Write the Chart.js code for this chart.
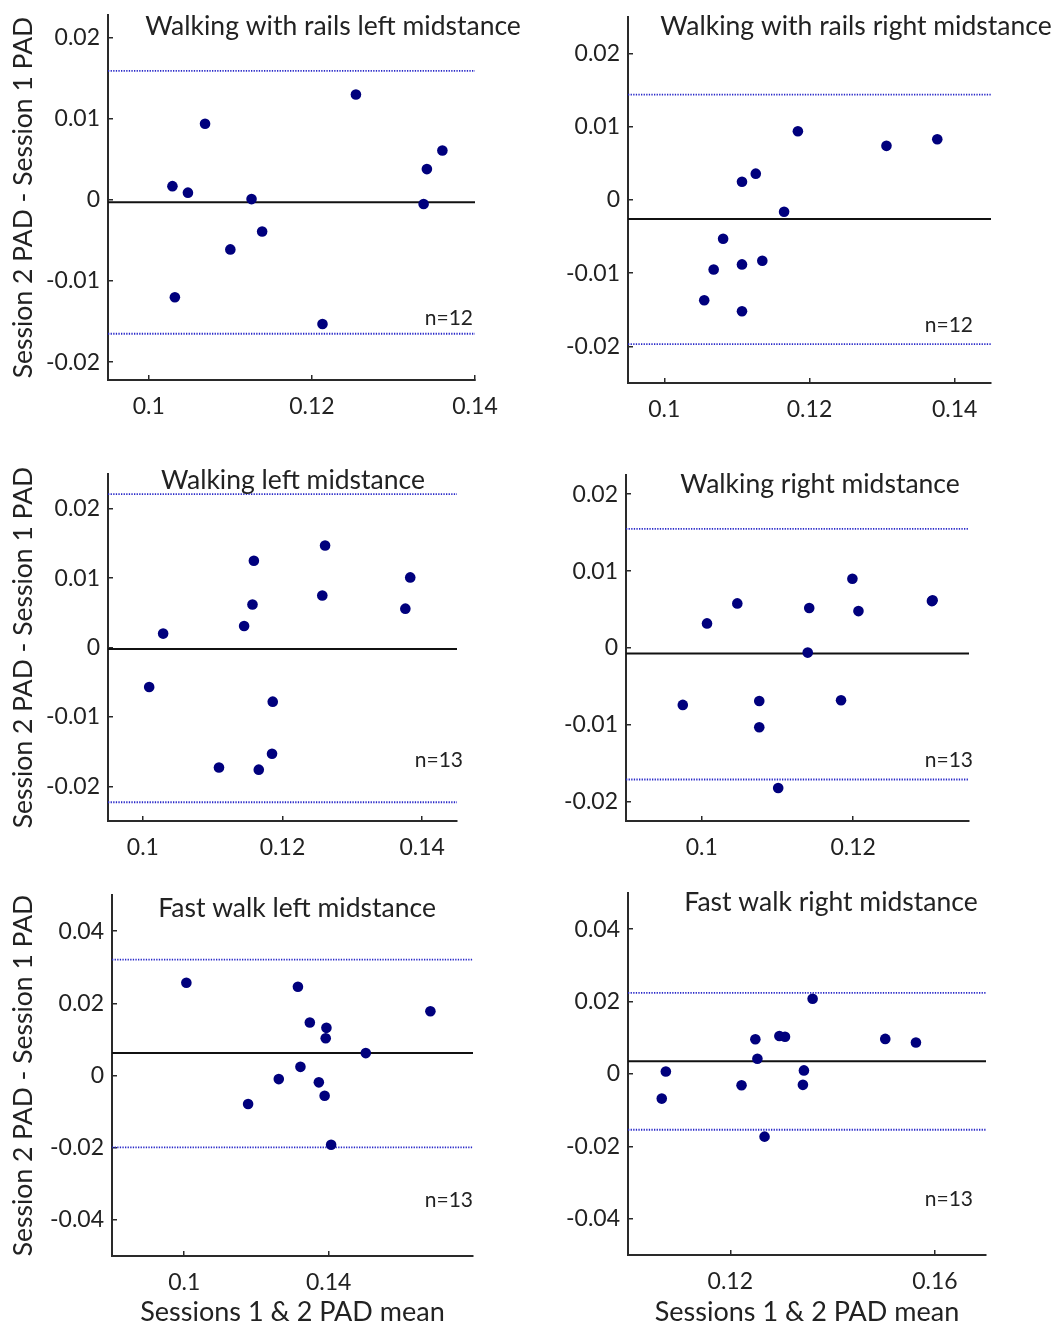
<!DOCTYPE html>
<html>
<head>
<meta charset="utf-8">
<script src="https://cdn.jsdelivr.net/npm/chart.js@4.4.0/dist/chart.umd.min.js"></script>
<style>
  html, body { margin: 0; padding: 0; background: #fff; }
  #wrap { position: relative; width: 1059px; height: 1327px; }
  #wrap canvas { position: absolute; left: 0; top: 0; }
</style>
</head>
<body>
<div id="wrap">
  <canvas id="railsLeft" width="1059" height="1327"></canvas>
  <canvas id="railsRight" width="1059" height="1327"></canvas>
  <canvas id="walkLeft" width="1059" height="1327"></canvas>
  <canvas id="walkRight" width="1059" height="1327"></canvas>
  <canvas id="fastLeft" width="1059" height="1327"></canvas>
  <canvas id="fastRight" width="1059" height="1327"></canvas>
</div>
<script>
// Bland-Altman data: x = mean of sessions, y = session 2 - session 1
const railsLeftMean = [0.1029, 0.1048, 0.1069, 0.1032, 0.1100, 0.1126, 0.1139, 0.1213, 0.1254, 0.1337, 0.1341, 0.1360];
const railsLeftDiff = [0.0017, 0.0009, 0.0094, -0.0120, -0.0061, 0.0001, -0.0039, -0.0153, 0.0130, -0.0005, 0.0038, 0.0061];
const railsLeftLines = [-0.0003, 0.0159, -0.0165]; // bias, upper, lower limit

const railsRightMean = [0.1184, 0.1306, 0.1376, 0.1107, 0.1126, 0.1165, 0.1081, 0.1068, 0.1107, 0.1135, 0.1055, 0.1107];
const railsRightDiff = [0.0094, 0.0074, 0.0083, 0.0025, 0.0036, -0.0016, -0.0053, -0.0095, -0.0088, -0.0083, -0.0137, -0.0152];
const railsRightLines = [-0.0026, 0.0144, -0.0197];

const walkLeftMean = [0.1029, 0.1009, 0.1145, 0.1157, 0.1159, 0.1261, 0.1257, 0.1376, 0.1383, 0.1186, 0.1185, 0.1109, 0.1166];
const walkLeftDiff = [0.0020, -0.0057, 0.0031, 0.0062, 0.0125, 0.0147, 0.0075, 0.0056, 0.0101, -0.0078, -0.0153, -0.0173, -0.0176];
const walkLeftLines = [-0.0002, 0.0221, -0.0223];

const walkRightMean = [0.0975, 0.1007, 0.1047, 0.1076, 0.1076, 0.1101, 0.1142, 0.1140, 0.1184, 0.1199, 0.1207, 0.1305, 0.1304];
const walkRightDiff = [-0.0074, 0.0032, 0.0058, -0.0069, -0.0103, -0.0182, 0.0052, -0.0006, -0.0068, 0.0090, 0.0048, 0.0062, 0.0061];
const walkRightLines = [-0.0007, 0.0155, -0.0171];

const fastLeftMean = [0.1006, 0.1315, 0.1682, 0.1348, 0.1394, 0.1392, 0.1503, 0.1322, 0.1262, 0.1373, 0.1389, 0.1177, 0.1407];
const fastLeftDiff = [0.0257, 0.0246, 0.0178, 0.0147, 0.0132, 0.0103, 0.0062, 0.0024, -0.0010, -0.0019, -0.0056, -0.0079, -0.0192];
const fastLeftLines = [0.0062, 0.0321, -0.0199];

const fastRightMean = [0.1066, 0.1074, 0.1222, 0.1249, 0.1253, 0.1267, 0.1296, 0.1307, 0.1344, 0.1342, 0.1361, 0.1503, 0.1563];
const fastRightDiff = [-0.0068, 0.0007, -0.0031, 0.0096, 0.0042, -0.0173, 0.0105, 0.0103, 0.0010, -0.0030, 0.0208, 0.0097, 0.0087];
const fastRightLines = [0.0035, 0.0224, -0.0154];

const ticks01 = [0.1, 0.12, 0.14];
const yTicksSmall = [-0.02, -0.01, 0, 0.01, 0.02];
const yTicksLarge = [-0.04, -0.02, 0, 0.02, 0.04];

const Y_TITLE = "Session 2 PAD - Session 1 PAD";
const X_TITLE = "Sessions 1 & 2 PAD mean";

const FONT = "Lato";
const TEXT_COLOR = "#222";
const AXIS_COLOR = "#2a2a2a";
const DOT_COLOR = "#00007d";
const LIMIT_COLOR = "#2828c8";
const Y_AXIS_W = 80;
const X_AXIS_H = 50;

const panels = [
    { id: "railsLeft", title: "Walking with rails left midstance", n: 12,
      xs: railsLeftMean, ys: railsLeftDiff, lines: railsLeftLines,
      area: { l: 108, r: 475, t: 15, b: 380 }, x: [0.095, 0.14], y: [-0.0222, 0.0228],
      xTicks: ticks01, yTicks: yTicksSmall, titleAt: [333, 26], nAt: [473, 318], yTitle: true },
    { id: "railsRight", title: "Walking with rails right midstance", n: 12,
      xs: railsRightMean, ys: railsRightDiff, lines: railsRightLines,
      area: { l: 628, r: 991, t: 17, b: 383 }, x: [0.095, 0.145], y: [-0.025, 0.025],
      xTicks: ticks01, yTicks: yTicksSmall, titleAt: [856, 26], nAt: [973, 325] },
    { id: "walkLeft", title: "Walking left midstance", n: 13,
      xs: walkLeftMean, ys: walkLeftDiff, lines: walkLeftLines,
      area: { l: 108, r: 457, t: 474, b: 821 }, x: [0.095, 0.145], y: [-0.025, 0.025],
      xTicks: ticks01, yTicks: yTicksSmall, titleAt: [293, 480], nAt: [463, 760], yTitle: true },
    { id: "walkRight", title: "Walking right midstance", n: 13,
      xs: walkRightMean, ys: walkRightDiff, lines: walkRightLines,
      area: { l: 626, r: 969, t: 475, b: 821 }, x: [0.09, 0.1353], y: [-0.0225, 0.0225],
      xTicks: [0.1, 0.12], yTicks: yTicksSmall, titleAt: [820, 484], nAt: [973, 760] },
    { id: "fastLeft", title: "Fast walk left midstance", n: 13,
      xs: fastLeftMean, ys: fastLeftDiff, lines: fastLeftLines,
      area: { l: 112, r: 473, t: 895, b: 1256 }, x: [0.08, 0.18], y: [-0.05, 0.05],
      xTicks: [0.1, 0.14], yTicks: yTicksLarge, titleAt: [297, 908], nAt: [473, 1200], yTitle: true, xTitle: true },
    { id: "fastRight", title: "Fast walk right midstance", n: 13,
      xs: fastRightMean, ys: fastRightDiff, lines: fastRightLines,
      area: { l: 628, r: 986, t: 893, b: 1255 }, x: [0.1, 0.17], y: [-0.05, 0.05],
      xTicks: [0.12, 0.16], yTicks: yTicksLarge, titleAt: [831, 902], nAt: [973, 1199], xTitle: true },
];

// titles, n= labels and axis titles, placed per panel
const panelText = {
    id: "panelText",
    afterDraw(chart, args, opts) {
        const ctx = chart.ctx;
        const area = chart.chartArea;
        ctx.save();
        ctx.fillStyle = TEXT_COLOR;
        ctx.textBaseline = "middle";
        ctx.font = `26.5px ${FONT}`;
        ctx.textAlign = "center";
        ctx.fillText(opts.title, opts.titleAt[0], opts.titleAt[1]);
        ctx.font = `21px ${FONT}`;
        ctx.textAlign = "right";
        ctx.fillText(`n=${opts.n}`, opts.nAt[0], opts.nAt[1]);
        ctx.font = `27px ${FONT}`;
        ctx.textAlign = "center";
        if (opts.xTitle) {
            ctx.fillText(X_TITLE, (area.left + area.right) / 2, 1312);
        }
        if (opts.yTitle) {
            ctx.font = `26.5px ${FONT}`;
            ctx.translate(23, (area.top + area.bottom) / 2);
            ctx.rotate(-Math.PI / 2);
            ctx.fillText(Y_TITLE, 0, 0);
        }
        ctx.restore();
    },
};

function hline(value, xr, color, width, dash) {
    return {
        type: "line",
        data: [{ x: xr[0], y: value }, { x: xr[1], y: value }],
        borderColor: color,
        borderWidth: width,
        borderDash: dash,
        pointRadius: 0,
        order: 2,
    };
}

function fmt(v) {
    return String(Number(v.toFixed(4)));
}

// keep tick-label overhang from pushing the plot area around
function noOverhang(s) {
    s.paddingTop = 0;
    s.paddingBottom = 0;
    s.paddingLeft = 0;
    s.paddingRight = 0;
}

function makeChart(p) {
    const points = p.xs.map((x, i) => ({ x, y: p.ys[i] }));
    const [bias, upper, lower] = p.lines;
    return new Chart(document.getElementById(p.id), {
        type: "scatter",
        data: {
            datasets: [
                {
                    data: points,
                    pointRadius: 5.3,
                    pointBackgroundColor: DOT_COLOR,
                    pointBorderWidth: 0,
                    order: 0,
                },
                hline(bias, p.x, "#111", 2, []),
                hline(upper, p.x, LIMIT_COLOR, 1.8, [1.3, 1.3]),
                hline(lower, p.x, LIMIT_COLOR, 1.8, [1.3, 1.3]),
            ],
        },
        options: {
            responsive: false,
            animation: false,
            events: [],
            layout: {
                padding: {
                    left: p.area.l - Y_AXIS_W,
                    right: 1059 - p.area.r,
                    top: p.area.t,
                    bottom: 1327 - p.area.b - X_AXIS_H,
                },
            },
            plugins: {
                legend: { display: false },
                tooltip: { enabled: false },
                panelText: { title: p.title, n: p.n, titleAt: p.titleAt, nAt: p.nAt, yTitle: p.yTitle, xTitle: p.xTitle },
            },
            scales: {
                x: {
                    type: "linear",
                    min: p.x[0],
                    max: p.x[1],
                    afterBuildTicks: (s) => { s.ticks = p.xTicks.map((v) => ({ value: v })); },
                    afterFit: (s) => { s.height = X_AXIS_H; noOverhang(s); },
                    grid: { drawOnChartArea: false, drawTicks: true, tickLength: -5, color: AXIS_COLOR, lineWidth: 1.5 },
                    border: { display: true, color: AXIS_COLOR, width: 2 },
                    ticks: { padding: 18, color: TEXT_COLOR, font: { family: FONT, size: 23 }, callback: fmt, maxRotation: 0 },
                },
                y: {
                    type: "linear",
                    min: p.y[0],
                    max: p.y[1],
                    afterBuildTicks: (s) => { s.ticks = p.yTicks.map((v) => ({ value: v })); },
                    afterFit: (s) => { s.width = Y_AXIS_W; noOverhang(s); },
                    grid: { drawOnChartArea: false, drawTicks: true, tickLength: -5, color: AXIS_COLOR, lineWidth: 1.5 },
                    border: { display: true, color: AXIS_COLOR, width: 2 },
                    ticks: { padding: 13, color: TEXT_COLOR, font: { family: FONT, size: 23 }, callback: fmt },
                },
            },
        },
        plugins: [panelText],
    });
}

panels.forEach(makeChart);
</script>
</body>
</html>
